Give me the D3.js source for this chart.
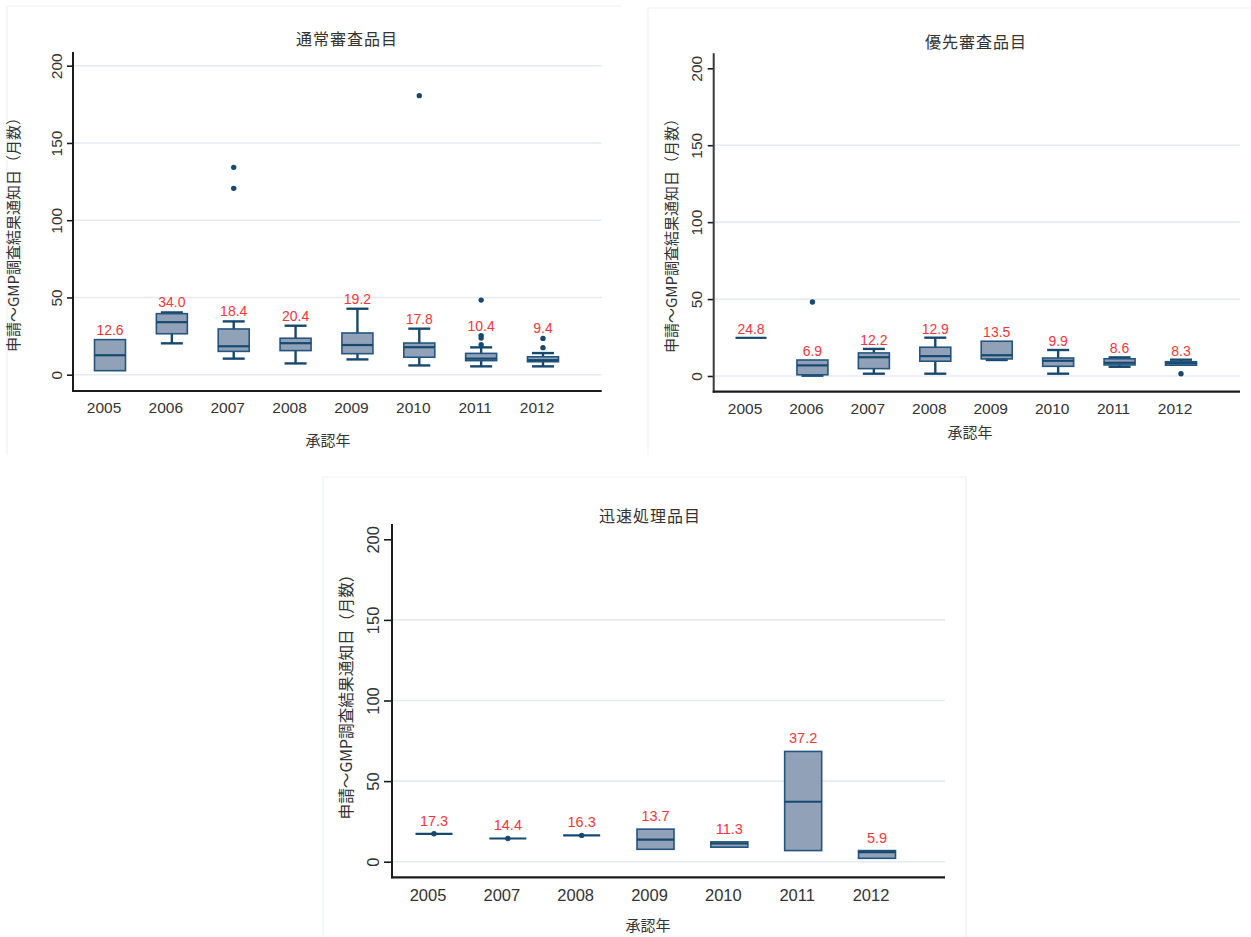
<!DOCTYPE html>
<html>
<head>
<meta charset="utf-8">
<script src="https://cdn.jsdelivr.net/npm/d3@7"></script>
<style>
  html, body { margin: 0; padding: 0; background: #ffffff; }
  svg { display: block; }
</style>
</head>
<body>
<script>
// ---- 通常審査品目 ----
const normalYears    = ["2005", "2006", "2007", "2008", "2009", "2010", "2011", "2012"];
const normalMedian   = [12.6, 34.0, 18.4, 20.4, 19.2, 17.8, 10.4, 9.4];
const normalQ1       = [2.6, 26.5, 15.1, 15.6, 13.6, 11.3, 9.1, 8.4];
const normalQ3       = [22.7, 39.5, 29.6, 23.6, 27.0, 20.5, 13.8, 11.6];
const normalLow      = [2.6, 20.3, 10.4, 7.3, 9.9, 6.0, 5.4, 5.4];
const normalHigh     = [22.7, 40.3, 34.5, 31.7, 42.7, 29.8, 17.7, 14.0];
const normalOutliers = [[], [], [134.2, 120.6], [], [], [180.6], [48.3, 25.3, 23.7, 19.4], [23.5, 17.5]];

// ---- 優先審査品目 ----
const priorityYears    = ["2005", "2006", "2007", "2008", "2009", "2010", "2011", "2012"];
const priorityMedian   = [24.8, 6.9, 12.2, 12.9, 13.5, 9.9, 8.6, 8.3];
const priorityQ1       = [24.8, 0.8, 4.8, 9.6, 11.1, 6.3, 7.2, 7.0];
const priorityQ3       = [24.8, 10.4, 15.0, 18.7, 22.6, 11.7, 11.2, 9.3];
const priorityLow      = [24.8, 0.2, 1.5, 1.5, 10.4, 1.5, 6.0, 7.0];
const priorityHigh     = [24.8, 10.4, 17.6, 24.9, 22.6, 16.9, 12.1, 10.6];
const priorityOutliers = [[], [48.1], [], [], [], [], [], [1.5]];

// ---- 迅速処理品目 ----
const rapidYears    = ["2005", "2007", "2008", "2009", "2010", "2011", "2012"];
const rapidMedian   = [17.3, 14.4, 16.3, 13.7, 11.3, 37.2, 5.9];
const rapidQ1       = [17.3, 14.4, 16.3, 7.7, 9.0, 6.9, 2.1];
const rapidQ3       = [17.3, 14.4, 16.3, 20.2, 12.3, 68.4, 6.9];
const rapidLow      = [17.3, 14.4, 16.3, 7.7, 9.0, 6.9, 2.1];
const rapidHigh     = [17.3, 14.4, 16.3, 20.2, 12.3, 68.4, 6.9];
const rapidOutliers = [[17.3], [14.4], [16.3], [], [], [], []];

// Shared axis settings
const yTickValues = [0, 50, 100, 150, 200];
const yTitleText = "申請～GMP調査結果通知日（月数）";
const xTitleText = "承認年";

const CJK = "'Noto Sans CJK JP', 'Noto Sans', sans-serif";
const LATIN = "'Liberation Sans', Arial, sans-serif";
const C = {
  boxFill: "#91a1b8",
  boxStroke: "#24557f",
  whisker: "#17496f",
  dot: "#17496f",
  label: "#f7333a",
  grid: "#e6ebf0",
  axis: "#1b1b1b",
  text: "#333333",
  border: "#edf0f4"
};

const svg = d3.select("body").append("svg")
  .attr("width", 1251).attr("height", 937);

function buildRows(years, med, q1, q3, lo, hi, out) {
  return years.map((yr, i) => ({
    year: yr, median: med[i], q1: q1[i], q3: q3[i], low: lo[i], high: hi[i], outliers: out[i]
  }));
}

function drawPanel(cfg) {
  const g = svg.append("g");
  const L = cfg.layout;

  // panel frame
  g.append("path")
    .attr("d", cfg.frameSides)
    .attr("fill", "none").attr("stroke", C.border).attr("stroke-width", 1.2);

  const y = d3.scaleLinear().domain([0, 200]).range([L.y0, L.y200]);
  const x = d3.scalePoint().domain(cfg.rows.map(d => d.year)).range([L.xFirst, L.xLast]);

  // grid lines
  g.append("g")
    .selectAll("line")
    .data(yTickValues.filter(v => cfg.grid200 || v < 200))
    .join("line")
    .attr("x1", L.axisX).attr("x2", L.xRight)
    .attr("y1", d => y(d)).attr("y2", d => y(d))
    .attr("stroke", C.grid).attr("stroke-width", 1.6);

  // y axis ticks & rotated labels
  const yAxis = g.append("g")
    .attr("transform", `translate(${L.axisX},0)`)
    .call(d3.axisLeft(y).tickValues(yTickValues).tickSize(L.tickLen).tickFormat(d3.format("d")));
  yAxis.select(".domain").remove();
  yAxis.selectAll(".tick line").attr("stroke", C.axis).attr("stroke-width", 1.6);
  yAxis.selectAll(".tick text")
    .attr("x", null).attr("dy", null)
    .attr("transform", `translate(${-L.yLabelOffset},0) rotate(-90)`)
    .attr("y", 0)
    .attr("dy", "0.36em")
    .attr("text-anchor", "middle")
    .attr("fill", C.text)
    .style("font-family", LATIN)
    .style("font-size", L.tickFont + "px");

  // axis lines
  g.append("line")
    .attr("x1", L.axisX).attr("x2", L.axisX)
    .attr("y1", L.yTop).attr("y2", L.xAxisY + 1)
    .attr("stroke", cfg.yAxisColor).attr("stroke-width", 2);
  g.append("line")
    .attr("x1", L.axisX - 1).attr("x2", L.xRight)
    .attr("y1", L.xAxisY).attr("y2", L.xAxisY)
    .attr("stroke", C.axis).attr("stroke-width", 2.2);

  // x axis category labels
  const xAxis = g.append("g")
    .attr("transform", `translate(0,${L.xAxisY})`)
    .call(d3.axisBottom(x).tickSize(0));
  xAxis.select(".domain").remove();
  xAxis.selectAll(".tick text")
    .attr("y", L.xLabelDrop).attr("dy", null)
    .attr("dx", L.xLabelShift)
    .attr("fill", C.text)
    .style("font-family", LATIN)
    .style("font-size", L.tickFont + "px");

  // boxes
  const bw = L.boxW, cw = L.capW;
  const grp = g.append("g").selectAll("g.box")
    .data(cfg.rows).join("g").attr("class", "box")
    .attr("transform", d => `translate(${x(d.year)},0)`);

  // whiskers
  grp.filter(d => d.high > d.q3).append("line")
    .attr("x1", 0).attr("x2", 0).attr("y1", d => y(d.q3)).attr("y2", d => y(d.high))
    .attr("stroke", C.whisker).attr("stroke-width", 2.4);
  grp.filter(d => d.high > d.q3).append("line")
    .attr("x1", -cw / 2).attr("x2", cw / 2).attr("y1", d => y(d.high)).attr("y2", d => y(d.high))
    .attr("stroke", C.whisker).attr("stroke-width", 2.4);
  grp.filter(d => d.low < d.q1).append("line")
    .attr("x1", 0).attr("x2", 0).attr("y1", d => y(d.q1)).attr("y2", d => y(d.low))
    .attr("stroke", C.whisker).attr("stroke-width", 2.4);
  grp.filter(d => d.low < d.q1).append("line")
    .attr("x1", -cw / 2).attr("x2", cw / 2).attr("y1", d => y(d.low)).attr("y2", d => y(d.low))
    .attr("stroke", C.whisker).attr("stroke-width", 2.4);

  // box body
  grp.filter(d => d.q3 > d.q1).append("rect")
    .attr("x", -bw / 2).attr("width", bw)
    .attr("y", d => y(d.q3)).attr("height", d => y(d.q1) - y(d.q3))
    .attr("fill", C.boxFill).attr("stroke", C.boxStroke).attr("stroke-width", 1.6);

  // median
  grp.append("line")
    .attr("x1", -bw / 2).attr("x2", bw / 2)
    .attr("y1", d => y(d.median)).attr("y2", d => y(d.median))
    .attr("stroke", C.whisker).attr("stroke-width", 2.2);

  // outside values
  grp.selectAll("circle").data(d => d.outliers).join("circle")
    .attr("cx", 0).attr("cy", v => y(v)).attr("r", 2.7)
    .attr("fill", C.dot);

  // median value labels
  grp.append("text")
    .attr("x", 0)
    .attr("y", d => {
      const near = d.outliers.filter(v => v > d.high && v < 30);
      const top = d3.max([d.high, ...near]);
      return y(top) - L.labelGap;
    })
    .attr("text-anchor", "middle")
    .attr("fill", C.label)
    .style("font-family", LATIN)
    .style("font-size", L.valueFont + "px")
    .text(d => d3.format(".1f")(d.median));

  // titles
  g.append("text")
    .attr("x", L.titleX).attr("y", L.titleY)
    .attr("text-anchor", "middle").attr("fill", C.text)
    .style("font-family", CJK).style("font-size", "16px").style("letter-spacing", "1px")
    .text(cfg.title);
  g.append("text")
    .attr("transform", `translate(${L.yTitleX},${L.yTitleY}) rotate(-90)`)
    .attr("dy", "0.36em")
    .attr("text-anchor", "middle").attr("fill", C.text)
    .style("font-family", CJK).style("font-size", L.yTitleFont + "px")
    .text(yTitleText);
  g.append("text")
    .attr("x", L.xTitleX).attr("y", L.xTitleY)
    .attr("text-anchor", "middle").attr("fill", C.text)
    .style("font-family", CJK).style("font-size", "15px")
    .text(xTitleText);
}

drawPanel({
  title: "通常審査品目",
  rows: buildRows(normalYears, normalMedian, normalQ1, normalQ3, normalLow, normalHigh, normalOutliers),
  grid200: true,
  yAxisColor: C.axis,
  frameSides: "M7,455 V6 H622",
  layout: {
    axisX: 73, yTop: 52, xAxisY: 391, xRight: 601.7, y0: 374.7, y200: 65.7,
    xFirst: 110, xLast: 543, boxW: 31, capW: 22, tickLen: 6, yLabelOffset: 16.5,
    tickFont: 15.5, valueFont: 14, labelGap: 5, xLabelDrop: 21.5, xLabelShift: -6.5,
    titleX: 347, titleY: 45, yTitleX: 13.5, yTitleY: 231, yTitleFont: 15,
    xTitleX: 328, xTitleY: 446
  }
});

drawPanel({
  title: "優先審査品目",
  rows: buildRows(priorityYears, priorityMedian, priorityQ1, priorityQ3, priorityLow, priorityHigh, priorityOutliers),
  grid200: false,
  yAxisColor: "#3a3a3a",
  frameSides: "M648,455 V8 H1251",
  layout: {
    axisX: 713.7, yTop: 53.3, xAxisY: 391.7, xRight: 1240, y0: 376, y200: 68.3,
    xFirst: 751, xLast: 1181, boxW: 31, capW: 22, tickLen: 6, yLabelOffset: 17.7,
    tickFont: 15.5, valueFont: 14, labelGap: 4, xLabelDrop: 22, xLabelShift: -6.5,
    titleX: 976, titleY: 47.5, yTitleX: 671.7, yTitleY: 232, yTitleFont: 15,
    xTitleX: 970, xTitleY: 438
  }
});

drawPanel({
  title: "迅速処理品目",
  rows: buildRows(rapidYears, rapidMedian, rapidQ1, rapidQ3, rapidLow, rapidHigh, rapidOutliers),
  grid200: false,
  yAxisColor: C.axis,
  frameSides: "M323,937 V477 H966 V937",
  layout: {
    axisX: 392, yTop: 524, xAxisY: 877.3, xRight: 945, y0: 861.7, y200: 539.3,
    xFirst: 434, xLast: 877, boxW: 37, capW: 26, tickLen: 8, yLabelOffset: 18.7,
    tickFont: 16.5, valueFont: 14.5, labelGap: 8, xLabelDrop: 23.5, xLabelShift: -6.5,
    titleX: 650, titleY: 522, yTitleX: 346, yTitleY: 693, yTitleFont: 15.7,
    xTitleX: 648, xTitleY: 931
  }
});
</script>
</body>
</html>
